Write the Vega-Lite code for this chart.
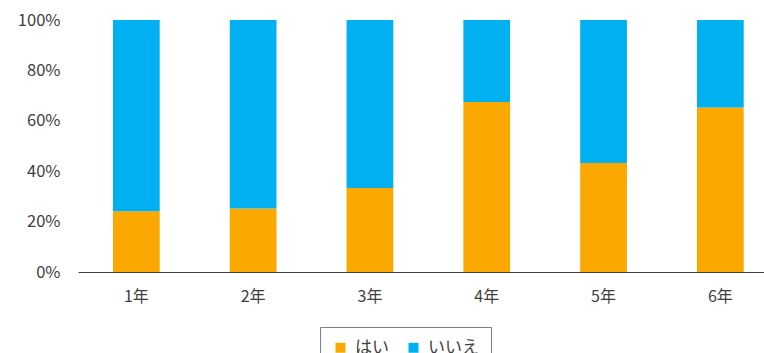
{
  "$schema": "https://vega.github.io/schema/vega-lite/v6.json",
  "width": 686,
  "height": 252,
  "autosize": {"type": "none"},
  "padding": {"left": 78, "top": 20, "right": 0, "bottom": 81},
  "background": "white",
  "data": {
    "values": [
      {"grade": "1年", "answer": "はい", "pct": 24.1},
      {"grade": "1年", "answer": "いいえ", "pct": 75.9},
      {"grade": "2年", "answer": "はい", "pct": 25.2},
      {"grade": "2年", "answer": "いいえ", "pct": 74.8},
      {"grade": "3年", "answer": "はい", "pct": 33.3},
      {"grade": "3年", "answer": "いいえ", "pct": 66.7},
      {"grade": "4年", "answer": "はい", "pct": 67.5},
      {"grade": "4年", "answer": "いいえ", "pct": 32.5},
      {"grade": "5年", "answer": "はい", "pct": 43.3},
      {"grade": "5年", "answer": "いいえ", "pct": 56.7},
      {"grade": "6年", "answer": "はい", "pct": 65.3},
      {"grade": "6年", "answer": "いいえ", "pct": 34.7}
    ]
  },
  "mark": {"type": "bar"},
  "encoding": {
    "x": {
      "field": "grade",
      "type": "nominal",
      "sort": null,
      "title": null,
      "scale": {"paddingInner": 0.6, "paddingOuter": 0.2366, "align": 0.633},
      "axis": {
        "labelAngle": 0,
        "labelFont": "Noto Sans CJK JP",
        "labelFontSize": 16,
        "labelColor": "#404040",
        "labelPadding": 16,
        "ticks": false,
        "domainColor": "#404040",
        "domainWidth": 1.2,
        "grid": false
      }
    },
    "y": {
      "field": "pct",
      "type": "quantitative",
      "stack": "normalize",
      "title": null,
      "scale": {"domain": [0, 1]},
      "axis": {
        "values": [0, 0.2, 0.4, 0.6, 0.8, 1],
        "format": ".0%",
        "labelFont": "Noto Sans CJK JP",
        "labelFontSize": 16.5,
        "labelColor": "#404040",
        "labelPadding": 18,
        "ticks": false,
        "domain": false,
        "grid": false
      }
    },
    "color": {
      "field": "answer",
      "type": "nominal",
      "title": null,
      "scale": {"domain": ["はい", "いいえ"], "range": ["#FBA800", "#00B0F0"]},
      "legend": {
        "orient": "none",
        "direction": "horizontal",
        "legendX": 242,
        "legendY": 307,
        "padding": 12,
        "strokeColor": "#7f7f7f",
        "symbolType": "square",
        "symbolSize": 100,
        "symbolStrokeWidth": 0,
        "labelFont": "Noto Sans CJK JP",
        "labelFontSize": 17,
        "labelColor": "#404040",
        "labelOffset": 6,
        "columnPadding": 16
      }
    },
    "order": {"field": "answer", "sort": "descending"}
  },
  "config": {"view": {"stroke": null}}
}
